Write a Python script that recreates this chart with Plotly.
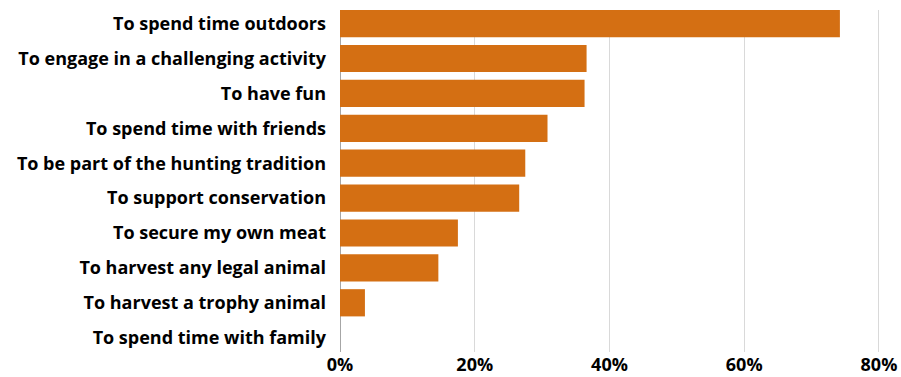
import plotly.graph_objects as go

# Reasons for hunting, share of respondents (%)
categories = [
    "To spend time outdoors",
    "To engage in a challenging activity",
    "To have fun",
    "To spend time with friends",
    "To be part of the hunting tradition",
    "To support conservation",
    "To secure my own meat",
    "To harvest any legal animal",
    "To harvest a trophy animal",
    "To spend time with family",
]
shares = [74.2, 36.6, 36.3, 30.8, 27.5, 26.6, 17.5, 14.6, 3.7, 0.0]

x_ticks = [0, 20, 40, 60, 80]
x_tick_labels = ["0%", "20%", "40%", "60%", "80%"]

BAR_COLOR = "#D46F13"
FONT = "Open Sans"
FONT_SIZE = 18

fig = go.Figure(
    go.Bar(
        x=shares,
        y=categories,
        orientation="h",
        width=0.78,
        marker=dict(color=BAR_COLOR, line=dict(width=0)),
    )
)

fig.update_layout(
    width=901,
    height=377,
    margin=dict(l=340, r=20, t=10, b=25, autoexpand=False),
    paper_bgcolor="white",
    plot_bgcolor="white",
    showlegend=False,
    font=dict(family=FONT, size=FONT_SIZE, color="#000000", weight="bold"),
)

fig.update_xaxes(
    range=[0, 80.3],
    tickvals=x_ticks,
    ticktext=x_tick_labels,
    showgrid=True,
    gridcolor="#D9D9D9",
    gridwidth=1,
    zeroline=True,
    zerolinecolor="#A6A6A6",
    zerolinewidth=1,
    showline=False,
    ticks="",
    tickfont=dict(family=FONT, size=FONT_SIZE, color="#000000", weight="bold"),
    ticklabelstandoff=0,
    ticklabeloverflow="allow",
    automargin=False,
)

fig.update_yaxes(
    type="category",
    categoryorder="array",
    categoryarray=categories,
    range=[9.41, -0.39],
    showgrid=False,
    zeroline=False,
    showline=False,
    ticks="",
    tickfont=dict(family=FONT, size=FONT_SIZE, color="#000000", weight="bold"),
    ticklabelstandoff=13,
    automargin=False,
)

fig.write_html("out.html")
